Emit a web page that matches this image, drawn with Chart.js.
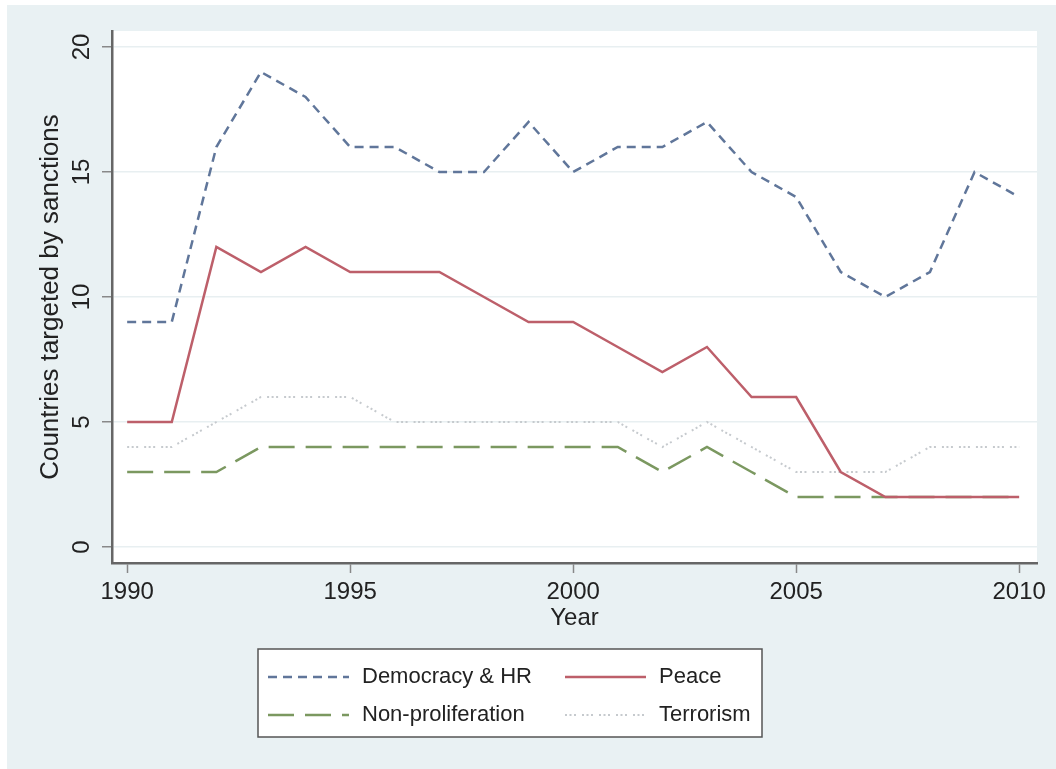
<!DOCTYPE html>
<html>
<head>
<meta charset="utf-8">
<script src="https://cdn.jsdelivr.net/npm/chart.js@4/dist/chart.umd.min.js"></script>
<style>
  html, body { margin: 0; padding: 0; background: #ffffff; }
  #wrap { width: 1056px; height: 769px; }
</style>
</head>
<body>
<div id="wrap"><canvas id="myChart" width="1056" height="769"></canvas></div>
<script>
    // Data
    var years = [1990, 1991, 1992, 1993, 1994, 1995, 1996, 1997, 1998, 1999, 2000,
                 2001, 2002, 2003, 2004, 2005, 2006, 2007, 2008, 2009, 2010];
    var democracyHR      = [9, 9, 16, 19, 18, 16, 16, 15, 15, 17, 15, 16, 16, 17, 15, 14, 11, 10, 11, 15, 14];
    var peace            = [5, 5, 12, 11, 12, 11, 11, 11, 10, 9, 9, 8, 7, 8, 6, 6, 3, 2, 2, 2, 2];
    var nonProliferation = [3, 3, 3, 4, 4, 4, 4, 4, 4, 4, 4, 4, 3, 4, 3, 2, 2, 2, 2, 2, 2];
    var terrorism        = [4, 4, 5, 6, 6, 6, 5, 5, 5, 5, 5, 5, 4, 5, 4, 3, 3, 3, 4, 4, 4];
    var xTicks = [1990, 1995, 2000, 2005, 2010];
    var yTicks = [0, 5, 10, 15, 20];

    function toPoints(values) {
        var pts = [];
        for (var i = 0; i < years.length; i++) {
            pts.push({ x: years[i], y: values[i] });
        }
        return pts;
    }

    // Background: white edge, light blue-grey panel, white plot region
    var backgroundPlugin = {
        id: 'background',
        beforeDraw: function (chart) {
            var c = chart.ctx;
            var a = chart.chartArea;
            c.save();
            c.fillStyle = '#ffffff';
            c.fillRect(0, 0, chart.width, chart.height);
            c.fillStyle = '#e9f1f3';
            c.fillRect(7, 5, chart.width - 7, chart.height - 5);
            c.fillStyle = '#ffffff';
            c.fillRect(a.left, a.top, a.right - a.left, a.bottom - a.top);
            c.restore();
        }
    };

    // Boxed two-column legend under the plot
    var boxLegendPlugin = {
        id: 'boxLegend',
        afterDraw: function (chart) {
            var c = chart.ctx;
            var sets = chart.data.datasets;
            var cols = [{ lineX: 268, textX: 362 }, { lineX: 565, textX: 659 }];
            var rows = [677, 715];
            c.save();
            c.fillStyle = '#ffffff';
            c.fillRect(258, 649, 504, 88);
            c.strokeStyle = '#555555';
            c.lineWidth = 1.5;
            c.strokeRect(258, 649, 504, 88);
            for (var i = 0; i < sets.length; i++) {
                var ds = sets[i];
                var col = cols[i % 2];
                var y = rows[Math.floor(i / 2)];
                c.beginPath();
                c.strokeStyle = ds.borderColor;
                c.lineWidth = ds.borderWidth;
                c.setLineDash(ds.borderDash || []);
                c.moveTo(col.lineX, y);
                c.lineTo(col.lineX + 81, y);
                c.stroke();
                c.setLineDash([]);
                c.fillStyle = '#222222';
                c.font = '22px "Liberation Sans", Arial, sans-serif';
                c.textBaseline = 'middle';
                c.textAlign = 'left';
                c.fillText(ds.label, col.textX, y);
            }
            c.restore();
        }
    };

    Chart.defaults.font.family = '"Liberation Sans", Arial, sans-serif';
    Chart.defaults.color = '#222222';

    const ctx = document.getElementById('myChart');
    new Chart(ctx, {
        type: 'line',
        data: {
            datasets: [{
                label: 'Democracy & HR',
                data: toPoints(democracyHR),
                borderColor: '#60769a',
                borderWidth: 2.5,
                borderDash: [9, 6],
            }, {
                label: 'Peace',
                data: toPoints(peace),
                borderColor: '#bd5f6a',
                borderWidth: 2.5,
            }, {
                label: 'Non-proliferation',
                data: toPoints(nonProliferation),
                borderColor: '#7b9860',
                borderWidth: 2.5,
                borderDash: [26, 11],
            }, {
                label: 'Terrorism',
                data: toPoints(terrorism),
                borderColor: '#c6cace',
                borderWidth: 2,
                borderDash: [2, 2.5, 2, 2.5, 2, 6],
            }]
        },
        options: {
            responsive: false,
            animation: false,
            layout: { padding: { left: 0, top: 31, right: 19, bottom: 0 } },
            elements: {
                point: { radius: 0 },
                line: { tension: 0, fill: false }
            },
            plugins: {
                legend: { display: false },
                tooltip: { enabled: false }
            },
            scales: {
                x: {
                    type: 'linear',
                    min: 1989.66,
                    max: 2010.4,
                    afterBuildTicks: function (scale) {
                        scale.ticks = xTicks.map(function (v) { return { value: v }; });
                    },
                    afterFit: function (scale) { scale.height = 206; },
                    grid: { drawOnChartArea: false, tickLength: 10, tickColor: '#888888', tickWidth: 1.5 },
                    border: { color: '#666666', width: 2.5 },
                    ticks: {
                        padding: 5,
                        color: '#222222',
                        font: { size: 24 },
                        callback: function (v) { return String(v); }
                    },
                    title: {
                        display: true,
                        text: 'Year',
                        color: '#222222',
                        font: { size: 24 },
                        padding: { top: 0, bottom: 136 }
                    }
                },
                y: {
                    min: -0.64,
                    max: 20.64,
                    afterBuildTicks: function (scale) {
                        scale.ticks = yTicks.map(function (v) { return { value: v }; });
                    },
                    afterFit: function (scale) { scale.width = 112; },
                    grid: { color: '#e8eff1', lineWidth: 1.5, tickLength: 10, tickColor: '#888888', tickWidth: 1.5 },
                    border: { color: '#666666', width: 2.5 },
                    ticks: {
                        padding: 6,
                        minRotation: 90,
                        maxRotation: 90,
                        crossAlign: 'center',
                        color: '#222222',
                        font: { size: 24 }
                    },
                    title: {
                        display: true,
                        text: 'Countries targeted by sanctions',
                        color: '#222222',
                        font: { size: 26 },
                        padding: { top: 35, bottom: 0 }
                    }
                }
            }
        },
        plugins: [backgroundPlugin, boxLegendPlugin]
    });
</script>
</body>
</html>
